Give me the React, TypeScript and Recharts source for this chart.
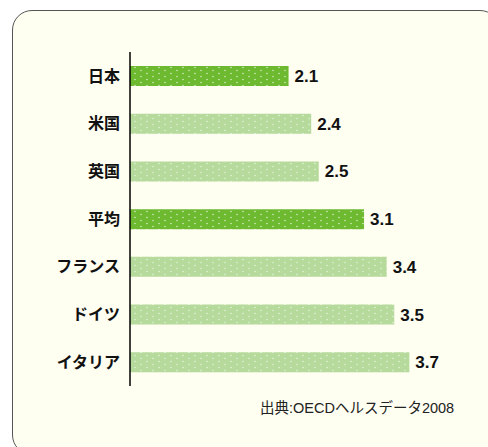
import React from "react";
import { BarChart, Bar, XAxis, YAxis, Cell, LabelList } from "recharts";

// 国別の値 (出典: OECDヘルスデータ2008)
const categories = ["日本", "米国", "英国", "平均", "フランス", "ドイツ", "イタリア"];
const values = [2.1, 2.4, 2.5, 3.1, 3.4, 3.5, 3.7];
const highlighted = ["日本", "平均"];

const DARK = "#6db92f";
const LIGHT = "#b6da9c";

const data = categories.map((name, i) => ({ name, value: values[i] }));

const App = () => {
  return (
    <div style={{ position: "absolute", left: 0, top: 0, width: 488, height: 447, background: "#fff", overflow: "hidden" }}>
      <div
        style={{
          position: "absolute",
          left: 12,
          top: 10,
          width: 486,
          height: 443,
          border: "1px solid #555",
          borderRadius: 20,
          background: "#fefef1",
        }}
      />
      <div style={{ position: "absolute", left: 0, top: 0 }}>
        <BarChart
          width={488}
          height={447}
          data={data}
          layout="vertical"
          margin={{ top: 52, right: 56, bottom: 61, left: 0 }}
        >
          <defs>
            <pattern id="dotDark" width="12" height="6" patternUnits="userSpaceOnUse">
              <rect width="12" height="6" fill={DARK} />
              <circle cx="3" cy="1.5" r="0.7" fill="#fff" opacity="0.85" />
              <circle cx="9" cy="4.5" r="0.7" fill="#fff" opacity="0.85" />
            </pattern>
            <pattern id="dotLight" width="12" height="6" patternUnits="userSpaceOnUse">
              <rect width="12" height="6" fill={LIGHT} />
              <circle cx="3" cy="1.5" r="0.7" fill="#fff" opacity="0.7" />
              <circle cx="9" cy="4.5" r="0.7" fill="#fff" opacity="0.7" />
            </pattern>
          </defs>
          <XAxis type="number" domain={[0, 4]} hide />
          <YAxis
            type="category"
            dataKey="name"
            width={130}
            tickLine={false}
            tickSize={0}
            tickMargin={10}
            axisLine={{ stroke: "#000", strokeWidth: 1.5 }}
            tick={{ fill: "#111", fontSize: 16, fontWeight: "bold", fontFamily: "'Noto Sans CJK JP', sans-serif" }}
          />
          <Bar dataKey="value" barSize={20} isAnimationActive={false}>
            {data.map((d) => (
              <Cell key={d.name} fill={highlighted.includes(d.name) ? "url(#dotDark)" : "url(#dotLight)"} />
            ))}
            <LabelList
              dataKey="value"
              position="right"
              offset={6}
              style={{ fill: "#111", fontSize: 17, fontWeight: "bold", fontFamily: "'Liberation Sans', Arial, sans-serif" }}
            />
          </Bar>
        </BarChart>
      </div>
      <div
        style={{
          position: "absolute",
          left: 260,
          top: 401,
          fontSize: 14.5,
          lineHeight: "14px",
          color: "#222",
          whiteSpace: "nowrap",
          fontFamily: "'Liberation Sans', 'Noto Sans CJK JP', sans-serif",
        }}
      >
        出典:OECDヘルスデータ2008
      </div>
    </div>
  );
};

export default App;
